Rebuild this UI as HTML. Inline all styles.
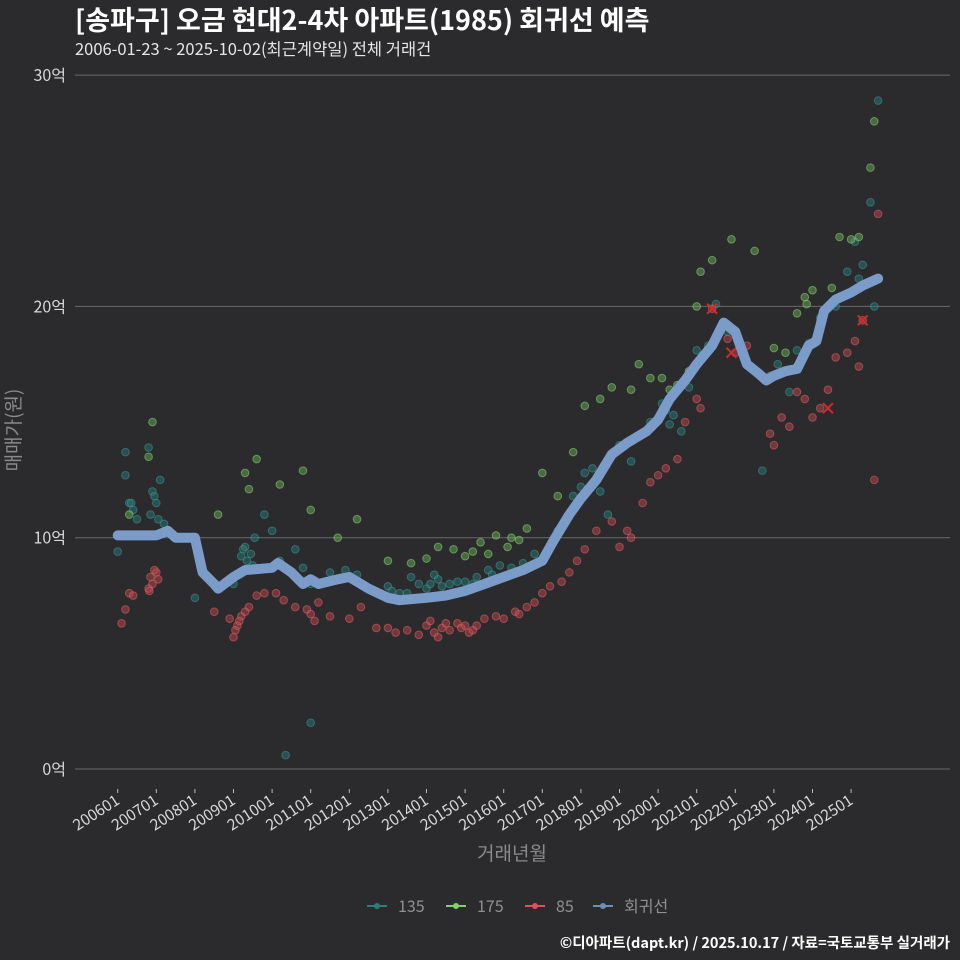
<!DOCTYPE html>
<html><head><meta charset="utf-8">
<style>
html,body{margin:0;padding:0;background:#2b2b2d;}
svg{display:block;font-family:"Noto Sans CJK KR","Liberation Sans",sans-serif;}
</style></head>
<body>
<svg id="chart" width="960" height="960" viewBox="0 0 960 960">
<rect x="0" y="0" width="960" height="960" fill="#2b2b2d"/>
<text x="75" y="30" fill="#ffffff" font-size="27" font-weight="bold">[송파구] 오금 현대2-4차 아파트(1985) 회귀선 예측</text>
<text x="75" y="55" fill="#e6e6e6" font-size="16.5">2006-01-23 ~ 2025-10-02(최근계약일) 전체 거래건</text>
<g id="grid"></g>
<g id="points"></g>
<g id="reg"></g>
<g id="axes"></g>
<text x="512" y="860" fill="#8a8a8a" font-size="19" text-anchor="middle">거래년월</text>
<text transform="translate(20,430) rotate(-90)" fill="#8a8a8a" font-size="19" text-anchor="middle">매매가(원)</text>
<g id="legend"></g>
<text x="950" y="948" fill="#ffffff" font-size="14.5" font-weight="bold" text-anchor="end">©디아파트(dapt.kr) / 2025.10.17 / 자료=국토교통부 실거래가</text>
</svg>
<script>
const yTicks = [0, 10, 20, 30];
const yTickLabels = ["0억", "10억", "20억", "30억"];
const xTickYears = [2006,2007,2008,2009,2010,2011,2012,2013,2014,2015,2016,2017,2018,2019,2020,2021,2022,2023,2024,2025];
const xTickLabels = ["200601","200701","200801","200901","201001","201101","201201","201301","201401","201501","201601","201701","201801","201901","202001","202101","202201","202301","202401","202501"];
const regYears = [2006.0,2007.0,2007.3,2007.5,2008.0,2008.2,2008.5,2008.6,2009.0,2009.3,2010.0,2010.15,2010.5,2010.8,2011.0,2011.2,2011.7,2012.0,2012.5,2013.0,2013.3,2014.0,2014.5,2015.0,2015.5,2016.0,2016.5,2017.0,2017.3,2017.7,2018.0,2018.4,2018.8,2019.2,2019.7,2020.0,2020.3,2020.7,2021.0,2021.4,2021.7,2022.0,2022.3,2022.6,2022.8,2023.0,2023.3,2023.6,2023.9,2024.1,2024.3,2024.6,2025.0,2025.3,2025.7];
const regValues = [10.1,10.1,10.3,10.0,10.0,8.5,8.0,7.8,8.3,8.6,8.7,8.9,8.5,8.0,8.2,8.0,8.2,8.3,7.8,7.4,7.3,7.4,7.5,7.7,8.0,8.3,8.6,9.0,9.9,11.0,11.7,12.5,13.6,14.1,14.6,15.1,16.0,16.8,17.5,18.3,19.3,18.9,17.5,17.1,16.8,17.0,17.2,17.3,18.3,18.5,19.8,20.3,20.6,20.9,21.2];
const s85Years = [2006.1,2006.2,2006.3,2006.4,2006.8,2006.85,2006.9,2007.0,2007.05,2006.82,2006.95,2008.5,2008.9,2009.0,2009.1,2009.2,2009.4,2009.6,2009.8,2009.05,2009.15,2009.3,2010.1,2010.3,2010.6,2010.9,2011.0,2011.1,2011.2,2011.5,2012.0,2012.3,2012.7,2013.0,2013.2,2013.5,2013.8,2014.0,2014.2,2014.4,2014.6,2014.8,2014.1,2014.3,2014.5,2014.9,2015.0,2015.1,2015.3,2015.5,2015.8,2015.2,2016.0,2016.3,2016.6,2016.8,2016.4,2017.0,2017.2,2017.5,2017.7,2017.9,2018.1,2018.4,2018.8,2019.0,2019.2,2019.3,2019.6,2019.8,2020.0,2020.2,2020.5,2020.7,2021.0,2021.1,2021.4,2021.8,2022.0,2022.3,2022.9,2023.0,2023.2,2023.4,2023.6,2023.8,2024.0,2024.2,2024.4,2024.6,2024.9,2025.1,2025.2,2025.3,2025.6,2025.7];
const s85Values = [6.3,6.9,7.6,7.5,7.8,8.3,8.0,8.5,8.2,7.7,8.6,6.8,6.5,5.7,6.2,6.6,7.0,7.5,7.6,6.0,6.4,6.8,7.6,7.3,7.0,6.9,6.7,6.4,7.2,6.6,6.5,7.0,6.1,6.1,5.9,6.0,5.8,6.2,5.9,6.1,6.0,6.3,6.4,5.7,6.3,6.1,6.2,5.9,6.2,6.5,6.6,6.0,6.5,6.8,7.0,7.2,6.7,7.6,7.9,8.1,8.5,9.0,9.5,10.3,10.7,9.6,10.3,10.0,11.5,12.4,12.7,13.0,13.4,15.0,16.0,15.6,19.9,18.6,18.0,18.3,14.5,14.0,15.2,14.8,16.3,16.0,15.2,15.6,16.4,17.8,18.0,18.5,17.4,19.4,12.5,24.0];
const s135Years = [2006.0,2006.2,2006.2,2006.3,2006.4,2006.5,2006.8,2006.9,2007.0,2007.1,2007.2,2006.85,2006.95,2007.05,2006.35,2008.0,2009.0,2009.2,2009.3,2009.5,2009.8,2009.25,2009.35,2009.45,2009.55,2010.0,2010.2,2010.6,2010.8,2011.0,2011.0,2010.35,2011.5,2011.9,2012.2,2012.5,2013.0,2013.3,2013.5,2013.8,2013.1,2013.6,2014.0,2014.3,2014.6,2014.1,2014.2,2014.4,2014.8,2015.0,2015.3,2015.6,2015.9,2015.2,2015.7,2016.2,2016.5,2016.8,2016.3,2017.4,2017.8,2018.0,2018.3,2018.7,2018.1,2018.5,2019.0,2019.3,2019.6,2019.8,2020.1,2020.4,2020.6,2020.8,2020.2,2020.3,2021.0,2021.3,2021.5,2021.8,2022.7,2022.9,2023.1,2023.4,2023.6,2023.9,2024.2,2024.6,2024.9,2025.1,2025.3,2025.5,2025.7,2025.6,2025.2];
const s135Values = [9.4,13.7,12.7,11.5,11.2,10.8,13.9,12.0,11.5,12.5,10.6,11.0,11.8,10.8,11.5,7.4,8.0,9.2,9.6,8.8,11.0,9.5,9.0,9.3,10.0,10.3,9.0,9.5,8.7,2.0,8.0,0.6,8.5,8.6,8.4,7.8,7.9,7.6,7.6,8.0,7.7,8.3,7.8,8.2,8.0,8.0,8.4,7.9,8.1,8.1,8.3,8.6,8.8,8.0,8.4,8.7,8.9,9.3,8.5,10.3,11.8,12.2,13.0,11.0,12.8,12.0,14.0,13.3,14.5,15.0,15.8,15.3,14.6,16.5,15.5,14.9,18.1,18.3,20.1,18.9,12.9,17.0,17.5,16.3,18.1,18.4,19.5,20.0,21.5,22.8,21.8,24.5,28.9,20.0,21.2];
const s175Years = [2006.3,2006.9,2006.8,2008.6,2009.3,2009.4,2009.6,2010.2,2010.8,2011.0,2011.7,2012.2,2013.0,2013.6,2014.0,2014.3,2014.7,2015.0,2015.4,2015.8,2015.2,2015.6,2016.2,2016.6,2016.1,2016.4,2017.0,2017.4,2017.8,2018.1,2018.5,2018.8,2019.3,2019.5,2019.8,2020.1,2020.5,2020.8,2020.3,2021.0,2021.1,2021.4,2021.9,2022.5,2023.0,2023.3,2023.6,2023.8,2024.0,2024.5,2024.7,2025.0,2025.2,2025.5,2025.6,2023.85];
const s175Values = [11.0,15.0,13.5,11.0,12.8,12.1,13.4,12.3,12.9,11.2,10.0,10.8,9.0,8.9,9.1,9.6,9.5,9.2,9.8,10.1,9.4,9.3,10.0,10.4,9.6,9.9,12.8,11.8,13.7,15.7,16.0,16.5,16.4,17.5,16.9,16.9,16.6,17.2,16.4,20.0,21.5,22.0,22.9,22.4,18.2,18.0,19.7,20.4,20.7,20.8,23.0,22.9,23.0,26.0,28.0,20.1];
const crossYears = [2021.4, 2021.9, 2024.4, 2025.3];
const crossValues = [19.9, 18.0, 15.6, 19.4];

const NS = "http://www.w3.org/2000/svg";
function xs(yr){ return 117.7 + (yr - 2006) * 38.6; }
function ys(v){ return 769 - v * 23.13; }
function mk(tag, attrs, parent){ const e = document.createElementNS(NS, tag); for (const k in attrs) e.setAttribute(k, attrs[k]); parent.appendChild(e); return e; }

const grid = document.getElementById('grid');
const axes = document.getElementById('axes');
yTicks.forEach((v, i) => {
  const l = mk('line', {x1: 75, x2: 950, y1: ys(v), y2: ys(v), stroke: '#6a6a6a', 'stroke-width': 1}, grid);
  
  
  const t = mk('text', {x: 66, y: ys(v) + 6, fill: '#d8d8d8', 'font-size': 16, 'text-anchor': 'end'}, axes);
  t.textContent = yTickLabels[i];
  
  
});
xTickYears.forEach((yr, i) => {
  const x = xs(yr);
  const tk = mk('line', {x1: x, x2: x, y1: 789, y2: 793, stroke: '#bbbbbb', 'stroke-width': 1}, axes);
  
  
  const t = mk('text', {transform: `translate(${x+3},${803}) rotate(-33)`, fill: '#d8d8d8', 'font-size': 15.5, 'text-anchor': 'end'}, axes);
  t.textContent = xTickLabels[i];
  
  
});

const pts = document.getElementById('points');
function drawSeries(yearsArr, valsArr, fill, stroke, name){
  yearsArr.forEach((yr, i) => {
    const c = mk('circle', {cx: xs(yr), cy: ys(valsArr[i]), r: 3.8, fill: fill, 'fill-opacity': 0.45, stroke: stroke, 'stroke-opacity': 0.55, 'stroke-width': 1}, pts);
    
    
  });
}
drawSeries(s135Years, s135Values, '#2a7f7c', '#3a9a95', 'point-135');
drawSeries(s175Years, s175Values, '#6fb55c', '#8fd67a', 'point-175');
drawSeries(s85Years, s85Values, '#c94a4f', '#e0626a', 'point-85');
crossYears.forEach((yr, i) => {
  const x = xs(yr), y = ys(crossValues[i]);
  const p = mk('path', {d: `M${x-5},${y-5}L${x+5},${y+5}M${x-5},${y+5}L${x+5},${y-5}`, stroke: '#d42a2a', 'stroke-width': 2}, pts);
  
  
});

const reg = document.getElementById('reg');
const d = regYears.map((yr, i) => (i ? 'L' : 'M') + xs(yr).toFixed(1) + ',' + ys(regValues[i]).toFixed(1)).join('');
const rp = mk('path', {d: d, fill: 'none', stroke: '#7b9cc9', 'stroke-width': 10, 'stroke-linejoin': 'round', 'stroke-linecap': 'round'}, reg);



const legend = document.getElementById('legend');
const legItems = [["135", "#2a7f7c", 367], ["175", "#7ed46a", 446], ["85", "#d9535a", 525], ["회귀선", "#6e8fba", 593]];
legItems.forEach(it => {
  const g = mk('g', {}, legend);
  
  
  mk('line', {x1: it[2], x2: it[2] + 20, y1: 906, y2: 906, stroke: it[1], 'stroke-width': 2}, g);
  mk('circle', {cx: it[2] + 10, cy: 906, r: 3, fill: it[1]}, g);
  const t = mk('text', {x: it[2] + 31, y: 912, fill: '#909090', 'font-size': 16}, g);
  t.textContent = it[0];
});
</script>
</body></html>
